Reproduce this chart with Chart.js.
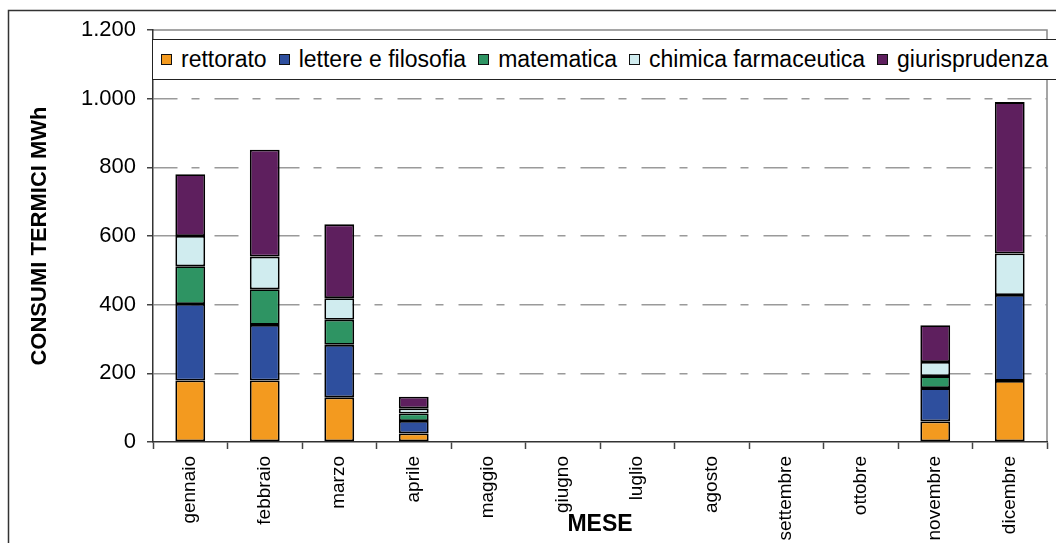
<!DOCTYPE html>
<html>
<head>
<meta charset="utf-8">
<script src="https://cdn.jsdelivr.net/npm/chart.js@4.4.0/dist/chart.umd.min.js"></script>
<style>
  html, body { margin: 0; padding: 0; background: #fff; overflow: hidden; }
  #wrap { position: relative; width: 1056px; height: 543px; }
  #legend {
    position: absolute; left: 152px; top: 39px; width: 920px; height: 41px;
    border: 1px solid #222; background: #fff; box-sizing: border-box;
    display: flex; align-items: center; padding-left: 8px; white-space: nowrap;
    font-family: "Liberation Sans", Arial, sans-serif; font-size: 23px; color: #000;
  }
  .item { display: flex; align-items: center; margin-right: 12px; }
  .swatch { width: 9px; height: 9px; border: 1.5px solid #111; margin-right: 9px; }
</style>
</head>
<body>
<div id="wrap">
  <canvas id="chart" width="1056" height="543"></canvas>
  <div id="legend"></div>
</div>
<script>
// Months (categories)
const months = ['gennaio', 'febbraio', 'marzo', 'aprile', 'maggio', 'giugno', 'luglio',
                'agosto', 'settembre', 'ottobre', 'novembre', 'dicembre']

// Consumi termici MWh per sede
const rettorato   = [179, 179, 130, 25, 0, 0, 0, 0, 0, 0, 60, 178]
const lettere     = [223, 162, 153, 36, 0, 0, 0, 0, 0, 0, 97, 250]
const matematica  = [110, 104, 73, 22, 0, 0, 0, 0, 0, 0, 35, 0]
const chimica     = [88, 95, 63, 15, 0, 0, 0, 0, 0, 0, 41, 121]
const giurisprud  = [180, 311, 215, 34, 0, 0, 0, 0, 0, 0, 107, 441]

// Y tick labels (italian thousands separator)
const yTickLabels = ['0', '200', '400', '600', '800', '1.000', '1.200']

Chart.defaults.font.family = '"Liberation Sans", Arial, sans-serif'
Chart.defaults.color = '#000'

const series = [
    { label: 'rettorato', data: rettorato, color: '#F39A1F' },
    { label: 'lettere e filosofia', data: lettere, color: '#2E4F9E' },
    { label: 'matematica', data: matematica, color: '#2E9463' },
    { label: 'chimica farmaceutica', data: chimica, color: '#D0ECEF' },
    { label: 'giurisprudenza', data: giurisprud, color: '#5E1F5E' }
]

const datasets = series.map(s => ({
    label: s.label,
    data: s.data,
    backgroundColor: s.color,
    borderColor: '#000',
    borderWidth: 1.8,
    borderSkipped: false,
    categoryPercentage: 1,
    barPercentage: 0.4
}))

// frame: outer chart border + grey plot border (top and right)
const framePlugin = {
    id: 'frame',
    beforeDraw(chart) {
        const { ctx, chartArea: a } = chart
        ctx.save()
        ctx.fillStyle = '#fff'
        ctx.fillRect(0, 0, chart.width, chart.height)
        ctx.strokeStyle = '#333'
        ctx.lineWidth = 1.5
        ctx.strokeRect(8.5, 10.5, chart.width + 20, chart.height + 20)
        ctx.strokeStyle = '#888'
        ctx.beginPath()
        ctx.moveTo(a.left, a.top)
        ctx.lineTo(a.right, a.top)
        ctx.lineTo(a.right, a.bottom)
        ctx.stroke()
        ctx.restore()
    }
}

const config = {
    type: 'bar',
    data: { labels: months, datasets },
    options: {
        responsive: false,
        animation: false,
        layout: { padding: { top: 30, right: 9, left: 0, bottom: 0 } },
        plugins: {
            legend: { display: false },
            tooltip: { enabled: false }
        },
        scales: {
            x: {
                stacked: true,
                grid: {
                    offset: true,
                    drawOnChartArea: false,
                    tickLength: 7,
                    tickColor: '#444',
                    tickWidth: 1.5
                },
                border: { color: '#333', width: 1.5 },
                ticks: {
                    font: { size: 19 },
                    minRotation: 90,
                    maxRotation: 90,
                    autoSkip: false,
                    padding: 7
                },
                title: {
                    display: true,
                    text: 'MESE',
                    font: { size: 23, weight: 'bold' },
                    padding: { top: 0, bottom: 5 }
                },
                afterFit(scale) { scale.height = 101 }
            },
            y: {
                stacked: true,
                min: 0,
                max: 1200,
                ticks: {
                    stepSize: 200,
                    font: { size: 22 },
                    padding: 11,
                    callback: (v, i) => yTickLabels[i]
                },
                grid: {
                    color: c => (c.tick && (c.tick.value === 0 || c.tick.value === 1200)) ? 'rgba(0,0,0,0)' : '#9a9a9a',
                    lineWidth: 1.5,
                    tickLength: 6,
                    tickColor: '#444',
                    tickWidth: 1.5,
                    tickBorderDash: []
                },
                border: { color: '#333', width: 1.5, dash: [24, 14, 8, 15] },
                title: {
                    display: true,
                    text: 'CONSUMI TERMICI MWh',
                    font: { size: 22, weight: 'bold' },
                    padding: { top: 27, bottom: 0 }
                },
                afterFit(scale) { scale.width = 153 }
            }
        }
    },
    plugins: [framePlugin]
}

const myChart = new Chart(document.getElementById('chart'), config)

// Legend (overlapping the plot, like the original)
const legendEl = document.getElementById('legend')
series.forEach(s => {
    const item = document.createElement('div')
    item.className = 'item'
    const sw = document.createElement('span')
    sw.className = 'swatch'
    sw.style.background = s.color
    const txt = document.createElement('span')
    txt.textContent = s.label
    item.appendChild(sw)
    item.appendChild(txt)
    legendEl.appendChild(item)
})
</script>
</body>
</html>
